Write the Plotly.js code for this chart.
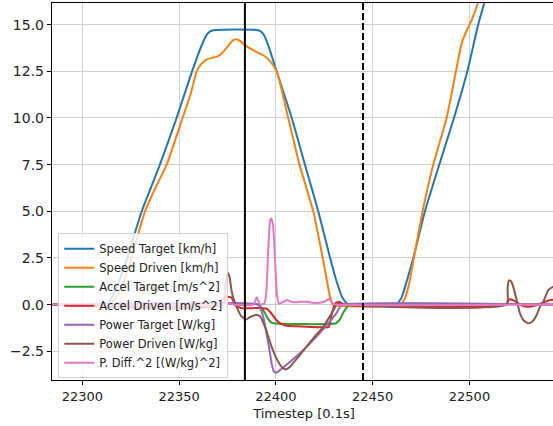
<!DOCTYPE html>
<html>
<head>
<meta charset="utf-8">
<script src="https://cdn.plot.ly/plotly-3.0.1.min.js"></script>
<style>
html,body{margin:0;padding:0;overflow:hidden;background:#fff;width:553px;height:426px;}
#chart{width:560px;height:426px;}
</style>
</head>
<body>
<div id="chart"></div>
<script>
// ---- data ----
const seriesNames = ["Speed Target [km/h]","Speed Driven [km/h]","Accel Target [m/s^2]","Accel Driven [m/s^2]","Power Target [W/kg]","Power Driven [W/kg]","P. Diff.^2 [(W/kg)^2]"];
const seriesColors = ["#1f77b4","#ff7f0e","#2ca02c","#d62728","#9467bd","#8c564b","#e377c2"];

const speedTargetX = [22284,22312,22315,22318,22322,22330.7,22340.1,22348.7,22356.7,22362.5,22365,22367.5,22391,22393.5,22396,22400.4,22408.2,22415,22421.9,22428,22431.5,22434.5,22437.5,22462,22465,22468,22471,22477,22484.4,22492,22498.9,22504.5,22510];
const speedTargetY = [0,0,0.3,1.0,2.1,5.0,7.5,10.0,12.5,14.1,14.55,14.7,14.7,14.5,13.9,12.5,10.0,7.5,5.0,2.5,1.2,0.35,0,0,0.4,1.4,2.5,5.0,7.5,10.0,12.5,15.0,17.0];

const speedDrivenX = [22284,22314,22317,22320,22324,22328.9,22332.4,22338,22343.6,22351.8,22356,22359.1,22361.5,22364.2,22366.8,22369.4,22372,22374.5,22376.3,22378,22379.4,22381.5,22384,22388.3,22393.5,22397,22400.4,22402.1,22406.4,22412.2,22419.3,22424.2,22426.5,22428,22429.5,22464,22466.5,22469,22471.3,22475.8,22481.3,22488.2,22493,22496,22498.6,22501.1,22504.2,22507];
const speedDrivenY = [0,0,0.3,0.9,2.0,3.8,5.0,6.3,7.5,10.0,11.3,12.5,12.9,13.13,13.22,13.27,13.45,13.75,14.0,14.17,14.22,14.13,13.9,13.63,13.36,13.05,12.5,11.9,10.0,7.5,5.0,2.5,1.2,0.4,0,0,0.3,1.2,2.5,5.0,7.5,10.0,12.5,14.0,14.7,15.24,16.13,17.5];

const accelTargetX = [22284,22390.9,22392.5,22394.4,22396,22397.5,22399,22431,22433,22435,22437,22438.5,22545];
const accelTargetY = [0,0,-0.15,-0.47,-0.78,-0.95,-1.0,-1.0,-0.8,-0.4,-0.1,0,0];

const accelDrivenX = [22284,22370,22372,22374.5,22377,22378.9,22380.5,22382,22384,22390.9,22395.2,22397.5,22400,22402.1,22405.6,22410.7,22424.5,22427.3,22428.8,22430.5,22432.5,22434.5,22436,22519.2,22520,22520.8,22522.6,22525.2,22527.8,22530.4,22533.9,22538,22541.5,22545];
const accelDrivenY = [0,0,0.25,0.42,0.38,0,-0.12,-0.18,-0.2,-0.18,-0.22,-0.45,-0.8,-1.0,-1.13,-1.16,-1.22,-1.2,-0.55,0.05,0.15,0.05,0,0,0.2,0.29,0.24,0.06,-0.08,-0.12,-0.05,0.1,0.24,0.26];

const powerTargetX = [22284,22390.9,22392,22393.5,22396.1,22397.8,22398.8,22399.8,22401,22402.5,22412.4,22421.1,22427.9,22431,22433,22434.8,22545];
const powerTargetY = [0,0,-0.2,-0.65,-2.08,-3.15,-3.55,-3.65,-3.6,-3.48,-2.61,-1.7,-0.9,-0.5,-0.15,0,0];

const powerDrivenX = [22284,22372.8,22374,22375.1,22376,22377.2,22378.5,22379.8,22382,22384.5,22387,22390,22392,22394.4,22397.8,22401.2,22403.8,22405.2,22407.3,22412.4,22419.3,22424.5,22428.8,22431.4,22432.5,22434,22519.2,22519.7,22520.4,22521.5,22522.6,22524.4,22526.1,22528,22530.4,22532.5,22534.7,22536.4,22538.1,22540.7,22543.1,22545];
const powerDrivenY = [0,0,1.1,1.72,1.5,0.69,0.2,-0.15,-0.6,-0.8,-0.65,-0.55,-0.65,-1.19,-2.26,-3.06,-3.42,-3.47,-3.33,-2.7,-1.81,-1.19,-0.47,0,0.08,0,0,0.9,1.3,1.25,0.95,0.24,-0.47,-0.85,-1.0,-0.9,-0.56,-0.12,0.15,0.78,0.95,1.0];

const pDiffX = [22284,22372,22375,22378,22388.5,22390.1,22391.8,22394,22395,22396,22397,22397.5,22398.5,22399.5,22400.5,22401.5,22403,22405.8,22408,22410.7,22413,22415.8,22419,22422.7,22425,22427.5,22429.6,22431,22545];
const pDiffY = [0,0,0.08,0,0,0.4,0.02,0.05,0.6,2.8,4.5,4.62,4.3,2.5,0.6,0.05,0.1,0.24,0.15,0.12,0.15,0.15,0.1,0.1,0.15,0.3,0.05,0,0];

const xTicks = [22300,22350,22400,22450,22500];
const yTicks = [-2.5,0,2.5,5,7.5,10,12.5,15];
const vLineSolidX = [22384];
const vLineDashedX = [22445];
const xLabel = "Timestep [0.1s]";

// ---- build traces ----
const xs = [speedTargetX,speedDrivenX,accelTargetX,accelDrivenX,powerTargetX,powerDrivenX,pDiffX];
const ys = [speedTargetY,speedDrivenY,accelTargetY,accelDrivenY,powerTargetY,powerDrivenY,pDiffY];
const traces = xs.map((x,i)=>({
  x:x, y:ys[i], name:seriesNames[i], type:'scatter', mode:'lines',
  line:{color:seriesColors[i], width:2, shape:'spline', smoothing:0.5},
  cliponaxis:true
}));

const shapes = [];
vLineSolidX.forEach(v=>shapes.push({type:'line',xref:'x',yref:'paper',x0:v,x1:v,y0:0,y1:1,line:{color:'#000',width:2}}));
vLineDashedX.forEach(v=>shapes.push({type:'line',xref:'x',yref:'paper',x0:v,x1:v,y0:0,y1:1,line:{color:'#000',width:2,dash:'7px,3px'}}));

const fontFam = 'DejaVu Sans, sans-serif';
const layout = {
  width:560, height:426,
  margin:{l:52,r:4,t:3,b:46},
  paper_bgcolor:'#fff', plot_bgcolor:'#fff',
  font:{family:fontFam,size:13,color:'#222'},
  showlegend:true,
  legend:{x:0.0125,y:0.389,xanchor:'left',yanchor:'top',
    bgcolor:'rgba(255,255,255,0.8)',bordercolor:'#d0d0d0',borderwidth:1,
    font:{family:fontFam,size:11.5,color:'#222'},itemwidth:30,tracegroupgap:0},
  xaxis:{range:[22284.35,22544.7],tickvals:xTicks,ticktext:xTicks.map(String),
    showgrid:true,gridcolor:'#cfcfcf',gridwidth:1,zeroline:false,
    showline:true,linecolor:'#000',linewidth:1.2,mirror:true,
    ticks:'outside',ticklen:4,tickcolor:'#000',
    tickfont:{family:fontFam,size:13,color:'#222'},
    title:{text:xLabel,font:{family:fontFam,size:13,color:'#222'},standoff:6},
    automargin:false},
  yaxis:{range:[-4.04,16.16],tickvals:yTicks,ticktext:yTicks.map(v=>v.toFixed(1).replace('-','\u2212')),
    showgrid:true,gridcolor:'#cfcfcf',gridwidth:1,zeroline:false,
    showline:true,linecolor:'#000',linewidth:1.2,mirror:true,
    ticks:'outside',ticklen:4,tickcolor:'#000',
    tickfont:{family:fontFam,size:14,color:'#222'},
    automargin:false},
  shapes:shapes
};
Plotly.newPlot('chart',traces,layout,{displayModeBar:false,staticPlot:true});
</script>
</body>
</html>
